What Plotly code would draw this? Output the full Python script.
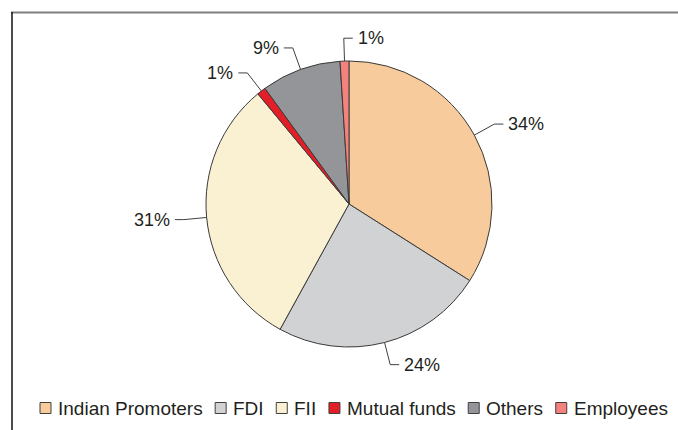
import math
import plotly.graph_objects as go

# --- data ---
labels = ["Indian Promoters", "FDI", "FII", "Mutual funds", "Others", "Employees"]
shares = [34, 24, 31, 1, 9, 1]
colors = ["#F7CB9C", "#D1D2D4", "#FAF0D2", "#E31E26", "#939598", "#F3827C"]

W, H = 678, 430
CX, CY, R = 349, 204, 143          # pie centre / radius in pixels (y down)
INK = "#231F20"
FONT = "Liberation Sans, Arial, sans-serif"

# Arial advance widths (1/1000 em), used to lay out the hand-made legend
ARIAL = {" ": 278, "D": 722, "E": 667, "F": 611, "I": 278, "M": 833, "O": 778,
         "P": 667, "a": 556, "d": 556, "e": 556, "f": 278, "h": 556, "i": 222,
         "l": 222, "m": 833, "n": 556, "o": 556, "p": 556, "r": 333, "s": 500,
         "t": 278, "u": 556, "y": 500}


def text_width(s, size):
    return sum(ARIAL.get(c, 556) for c in s) / 1000 * size


fig = go.Figure()

fig.add_trace(go.Pie(
    labels=labels,
    values=shares,
    sort=False,
    direction="clockwise",
    rotation=0,
    marker=dict(colors=colors, line=dict(color="#3A3A3A", width=1)),
    textinfo="none",
    hoverinfo="label+percent",
    showlegend=False,
    domain=dict(x=[(CX - R) / W, (CX + R) / W],
                y=[(H - CY - R) / H, (H - CY + R) / H]),
))

shapes = []
annotations = []

# --- outside % labels with elbow leader lines ---
total = sum(shares)
cum = 0
for val in shares:
    mid = (cum + val / 2) / total * 2 * math.pi
    cum += val
    sx, sy = math.sin(mid), -math.cos(mid)
    x0, y0 = CX + R * sx, CY + R * sy
    x1, y1 = CX + 1.16 * R * sx, CY + 1.16 * R * sy
    side = 1 if x1 >= CX - 8 else -1
    x2 = x1 + side * 9
    shapes.append(dict(type="path", xref="x", yref="y",
                       path=f"M{x0},{y0} L{x1},{y1} L{x2},{y1}",
                       line=dict(color="#404040", width=1)))
    annotations.append(dict(x=x2 + side * 3, y=y1, xref="x", yref="y",
                            text=f"{round(val / total * 100)}%", showarrow=False,
                            xanchor="left" if side > 0 else "right", yanchor="middle",
                            font=dict(size=18, color=INK, family=FONT)))

# --- legend row (swatch + label) ---
LEG_SIZE = 19
lx, ly = 40, 408
for name, col in zip(labels, colors):
    shapes.append(dict(type="rect", xref="x", yref="y",
                       x0=lx, x1=lx + 11, y0=ly - 5.5, y1=ly + 5.5,
                       fillcolor=col, line=dict(color="#404040", width=1)))
    annotations.append(dict(x=lx + 16, y=ly, xref="x", yref="y", text=name,
                            showarrow=False, xanchor="left", yanchor="middle",
                            font=dict(size=LEG_SIZE, color=INK, family=FONT)))
    lx += 11 + 6 + text_width(name, LEG_SIZE) + 13.5

# --- frame: grey top rule, black left rule ---
shapes.append(dict(type="line", xref="x", yref="y", x0=11, x1=W, y0=12.5, y1=12.5,
                   line=dict(color="#7F7F7F", width=2)))
shapes.append(dict(type="line", xref="x", yref="y", x0=12, x1=12, y0=12, y1=H,
                   line=dict(color="#111111", width=1.5)))

fig.update_layout(
    width=W, height=H,
    margin=dict(l=0, r=0, t=0, b=0),
    paper_bgcolor="white", plot_bgcolor="white",
    xaxis=dict(range=[0, W], visible=False, fixedrange=True),
    yaxis=dict(range=[H, 0], visible=False, fixedrange=True),
    shapes=shapes,
    annotations=annotations,
    showlegend=False,
)

# drop the browser's default 8px body margin so the figure fills the window
fig.write_html("out.html",
               config={"displayModeBar": False},
               post_script="document.body.style.margin='0';document.body.style.overflow='hidden';")
